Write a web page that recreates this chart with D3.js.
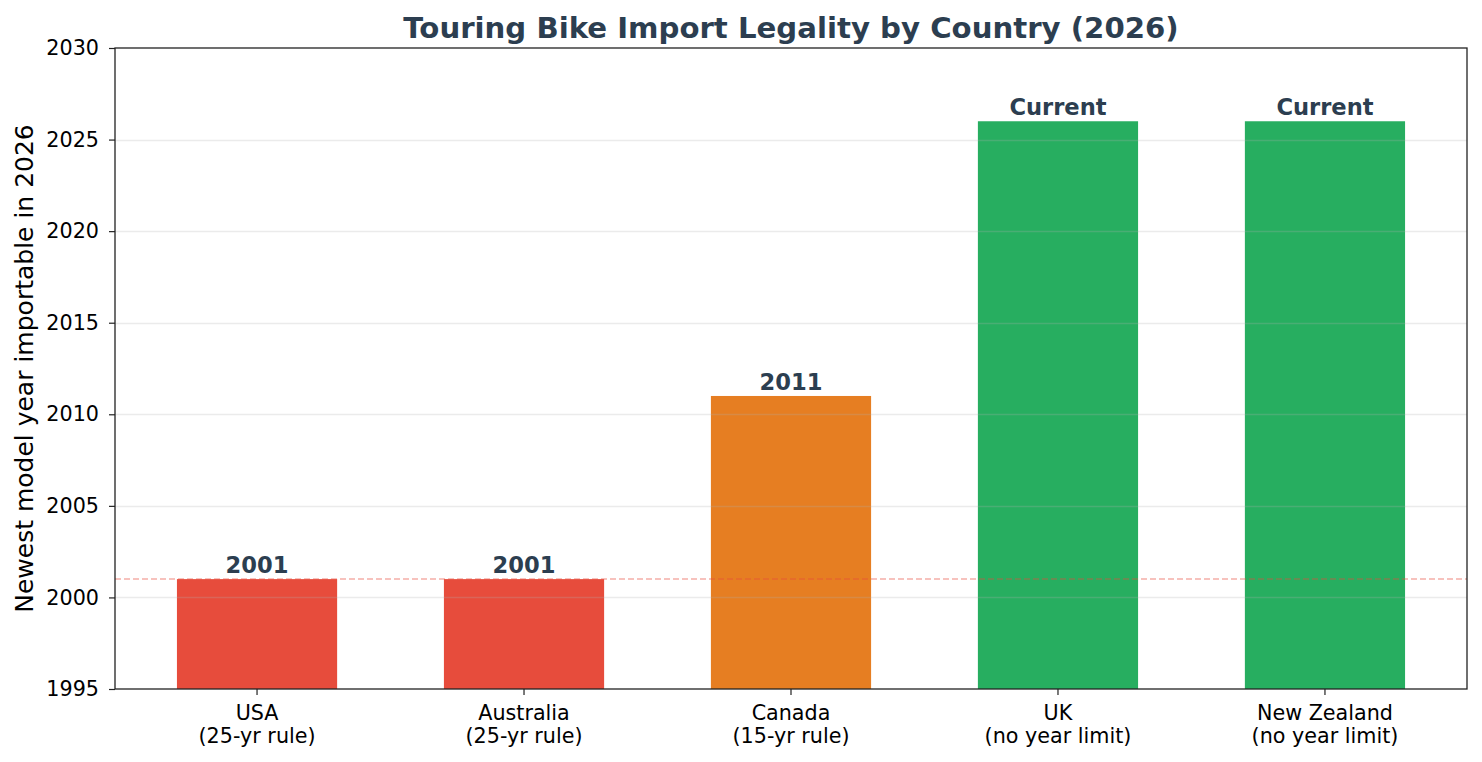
<!DOCTYPE html>
<html>
<head>
<meta charset="utf-8">
<script src="https://cdn.jsdelivr.net/npm/d3@7"></script>
<style>
  body { margin: 0; background: #fff; }
  svg { font-family: "DejaVu Sans", sans-serif; }
</style>
</head>
<body>
<svg id="chart"></svg>
<script>
// chart data
const countries = ['USA', 'Australia', 'Canada', 'UK', 'New Zealand']
const rules = ['(25-yr rule)', '(25-yr rule)', '(15-yr rule)', '(no year limit)', '(no year limit)']
const newestYear = [2001, 2001, 2011, 2026, 2026]
const barLabels = ['2001', '2001', '2011', 'Current', 'Current']
const barColors = ['#e74c3c', '#e74c3c', '#e67e22', '#27ae60', '#27ae60']
const yTicks = [1995, 2000, 2005, 2010, 2015, 2020, 2025, 2030]
const cutoffYear = 2001

const width = 1482, height = 762
const margin = {top: 48, right: 15, bottom: 73, left: 115}

const svg = d3.select('#chart')
	.attr('width', width)
	.attr('height', height)

// x scale
const x = d3.scaleBand()
	.domain(d3.range(countries.length))
	.range([margin.left, width - margin.right])
	.paddingInner(0.4)
	.paddingOuter(0.232)

// y scale
const y = d3.scaleLinear()
	.domain([1995, 2030])
	.range([height - margin.bottom, margin.top])

// Draw bars
svg.append('g')
	.selectAll('rect')
	.data(newestYear)
	.join('rect')
		.attr('x', (d, i) => x(i))
		.attr('y', d => y(d))
		.attr('width', x.bandwidth())
		.attr('height', d => y(1995) - y(d))
		.attr('fill', (d, i) => barColors[i])

// grid lines, drawn over the bars like the original
svg.append('g')
	.selectAll('line')
	.data(yTicks.slice(1, -1))
	.join('line')
		.attr('x1', margin.left)
		.attr('x2', width - margin.right)
		.attr('y1', d => Math.round(y(d)) + 0.5)
		.attr('y2', d => Math.round(y(d)) + 0.5)
		.attr('stroke', '#b0b0b0')
		.attr('stroke-opacity', 0.25)
		.attr('stroke-width', 1.5)

// cutoff dashed line
svg.append('line')
	.attr('x1', margin.left)
	.attr('x2', width - margin.right)
	.attr('y1', y(cutoffYear))
	.attr('y2', y(cutoffYear))
	.attr('stroke', '#e74c3c')
	.attr('stroke-opacity', 0.45)
	.attr('stroke-width', 1.5)
	.attr('stroke-dasharray', '6,3')

// value labels
svg.append('g')
	.selectAll('text')
	.data(newestYear)
	.join('text')
		.attr('x', (d, i) => x(i) + x.bandwidth() / 2)
		.attr('y', d => y(d) - 6)
		.attr('text-anchor', 'middle')
		.attr('font-size', '22.6px')
		.attr('font-weight', 'bold')
		.attr('fill', '#2c3e50')
		.text((d, i) => barLabels[i])

// axes
const yAxis = svg.append('g')
	.attr('transform', 'translate(' + margin.left + ',0)')
	.call(d3.axisLeft(y).tickValues(yTicks).tickFormat(d3.format('d')).tickSizeOuter(0).tickSize(6).tickPadding(10))
	.attr('font-family', null)
	.attr('font-size', null)
yAxis.selectAll('text').attr('font-size', '20.7px').attr('fill', '#000')

const xAxis = svg.append('g')
	.attr('transform', 'translate(0,' + (height - margin.bottom) + ')')
	.call(d3.axisBottom(x).tickSizeOuter(0).tickSize(6).tickFormat(() => ''))
	.attr('font-family', null)
	.attr('font-size', null)

xAxis.selectAll('.tick').each(function(d) {
	const t = d3.select(this).select('text')
		.attr('font-size', '20.7px')
		.attr('fill', '#000')
		.attr('y', 0)
		.attr('dy', null)
	t.append('tspan').attr('x', 0).attr('y', 31).text(countries[d])
	t.append('tspan').attr('x', 0).attr('y', 54).text(rules[d])
})

svg.selectAll('.domain').remove()
svg.selectAll('.tick line').attr('stroke', '#222').attr('stroke-width', 1.2)

// frame
svg.append('rect')
	.attr('x', margin.left)
	.attr('y', margin.top)
	.attr('width', width - margin.left - margin.right)
	.attr('height', height - margin.top - margin.bottom)
	.attr('fill', 'none')
	.attr('stroke', '#222')
	.attr('stroke-width', 1.3)

// title
svg.append('text')
	.attr('x', (margin.left + width - margin.right) / 2)
	.attr('y', 38)
	.attr('text-anchor', 'middle')
	.attr('font-size', '29.2px')
	.attr('font-weight', 'bold')
	.attr('fill', '#2c3e50')
	.text('Touring Bike Import Legality by Country (2026)')

// y label
svg.append('text')
	.attr('transform', 'translate(33,' + ((margin.top + height - margin.bottom) / 2) + ') rotate(-90)')
	.attr('text-anchor', 'middle')
	.attr('font-size', '25px')
	.attr('fill', '#000')
	.text('Newest model year importable in 2026')
</script>
</body>
</html>
